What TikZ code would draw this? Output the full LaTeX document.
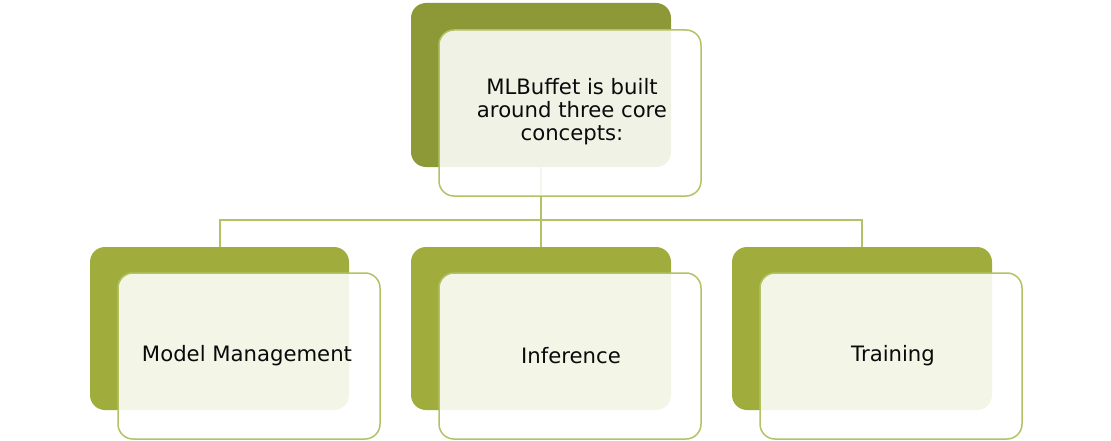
\documentclass[tikz,border=0pt]{standalone}
\usepackage{fontspec}
\setmainfont{DejaVu Sans}
\definecolor{oliveDark}{RGB}{140,153,54}
\definecolor{oliveMid}{RGB}{160,173,60}
\definecolor{oliveLine}{RGB}{178,194,100}
\definecolor{txt}{RGB}{10,10,10}
\tikzset{
  backbox/.style={fill=#1, draw=none, rounded corners=15pt},
  frontbox/.style={fill=white, fill opacity=0.88, draw=oliveLine, draw opacity=1, line width=1.5pt, rounded corners=15pt},
  conn/.style={draw=oliveLine, line width=1.5pt},
  lbl/.style={text=txt, font=\fontsize{21.2}{23}\selectfont, align=center, inner sep=0pt, text opacity=1}
}
\begin{document}
\begin{tikzpicture}[x=1pt,y=-1pt]
\fill[white] (0,0) rectangle (1111,441);
\useasboundingbox (0,0) rectangle (1111,441);
% back boxes
\path[backbox=oliveDark] (411,3) rectangle (671,167);
\path[backbox=oliveMid] (90,247) rectangle (349,410);
\path[backbox=oliveMid] (411,247) rectangle (671,410);
\path[backbox=oliveMid] (732,247) rectangle (992,410);
% connector anchors
\coordinate (top) at (541,167);
\coordinate (mid) at (541,220);
\coordinate (c1) at (220,247);
\coordinate (c2) at (541,247);
\coordinate (c3) at (862,247);
\draw[conn] (top) -- (c2);
\draw[conn] (c1) |- (mid) -| (c3);
% front boxes
\path[frontbox] (439,30) rectangle (701,196);
\path[frontbox] (118,273) rectangle (380,439);
\path[frontbox] (439,273) rectangle (701,439);
\path[frontbox] (760,273) rectangle (1022,439);
% labels
\node[lbl] (t0) at (572,112) {MLBuffet is built\\around three core\\concepts:};
\node[lbl] (t1) at (247,356) {Model Management};
\node[lbl] (t2) at (571,356) {Inference};
\node[lbl] (t3) at (893,356) {Training};
\end{tikzpicture}
\end{document}
